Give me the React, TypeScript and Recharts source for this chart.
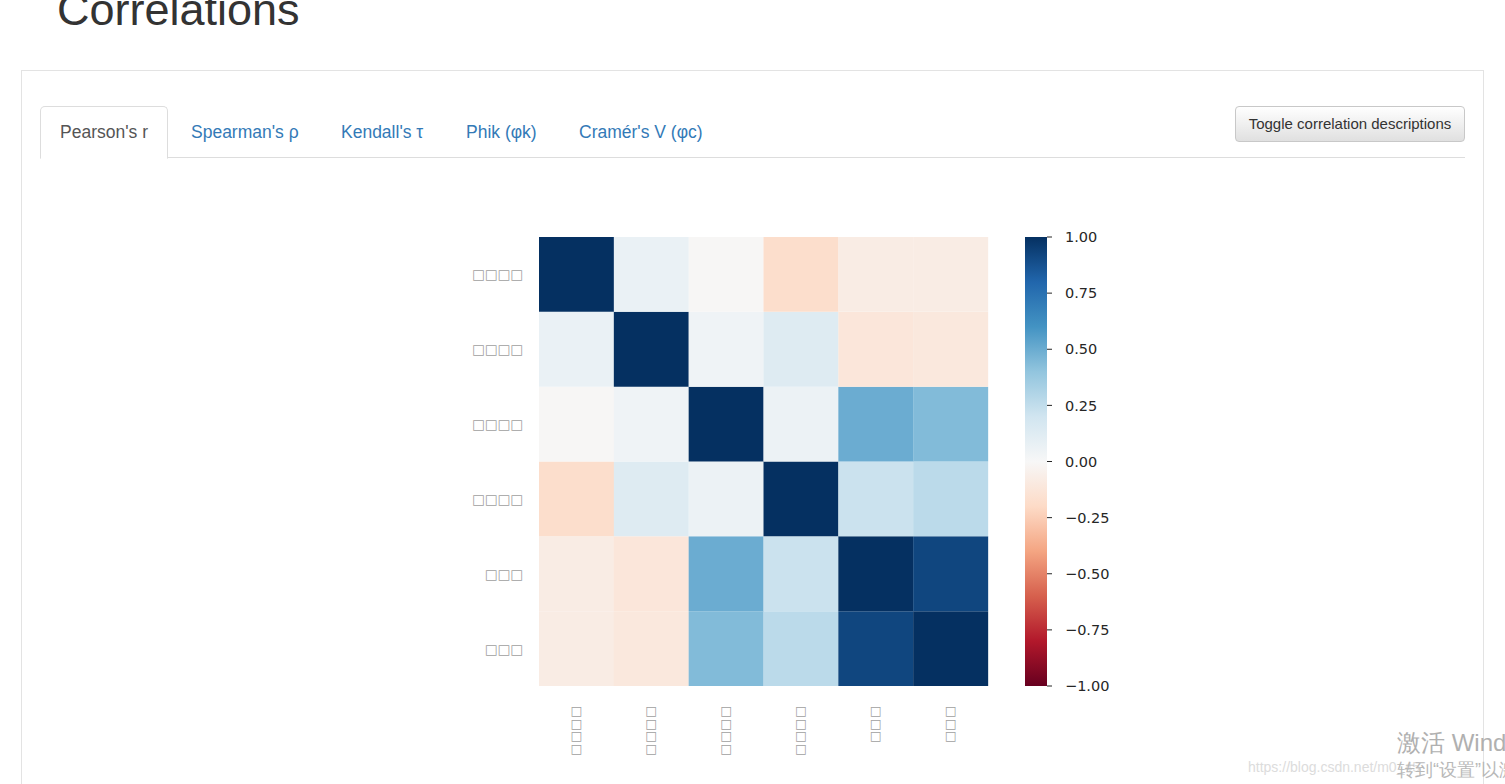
import React from "react";
import { BarChart, Bar, Cell, XAxis, YAxis } from "recharts";

// labels came out as missing-glyph boxes in the original render
const labels = ["□□□□", "□□□□", "□□□□", "□□□□", "□□□", "□□□"];

const corrRows = [
  [1.0, 0.07, -0.01, -0.18, -0.08, -0.08],
  [0.07, 1.0, 0.04, 0.13, -0.12, -0.11],
  [-0.01, 0.04, 1.0, 0.06, 0.5, 0.44],
  [-0.18, 0.13, 0.06, 1.0, 0.22, 0.27],
  [-0.08, -0.12, 0.5, 0.22, 1.0, 0.92],
  [-0.08, -0.11, 0.44, 0.27, 0.92, 1.0],
];

const colorbarTicks = [-1, -0.75, -0.5, -0.25, 0, 0.25, 0.5, 0.75, 1];

const tabs = ["Pearson's r", "Spearman's ρ", "Kendall's τ", "Phik (φk)", "Cramér's V (φc)"];
const tabX = [60, 191, 341, 466, 579];

// matplotlib RdBu_r, from -1 to 1
const rdbu = [
  "#67001f", "#b2182b", "#d6604d", "#f4a582", "#fddbc7", "#f7f7f7",
  "#d1e5f0", "#92c5de", "#4393c3", "#2166ac", "#053061",
];

const hex = (c: string) => [1, 3, 5].map((i) => parseInt(c.slice(i, i + 2), 16));

const corrColor = (v: number) => {
  const t = ((Math.max(-1, Math.min(1, v)) + 1) / 2) * (rdbu.length - 1);
  const i = Math.min(Math.floor(t), rdbu.length - 2);
  const f = t - i;
  const a = hex(rdbu[i]);
  const b = hex(rdbu[i + 1]);
  const rgb = a.map((x, k) => Math.round(x + (b[k] - x) * f));
  return `rgb(${rgb.join(",")})`;
};

// one stacked column per variable, one unit-high segment per row
const heatData = labels.map((name, j) => {
  const d: any = { name, col: j };
  corrRows.forEach((_, r) => (d[`r${r}`] = 1));
  return d;
});

const colorbarData = [{ name: "cb", range: [-1, 1] }];

const tickFont = "'DejaVu Sans', sans-serif";

const YTick = ({ x, y, payload }: any) => {
  const row = 5 - Math.floor(payload.value);
  return (
    <text x={x} y={y} dy={5} textAnchor="end" fill="#a0a0a0" fontSize={13.5} fontFamily={tickFont}>
      {labels[row]}
    </text>
  );
};

// vertical label: one character per line
const XTick = ({ x, y, payload }: any) => {
  const chars = Array.from(String(payload.value));
  return (
    <g>
      {chars.map((ch, i) => (
        <text
          key={i}
          x={x}
          y={y + 21 + i * 12.5}
          textAnchor="middle"
          fill="#a0a0a0"
          fontSize={12.5}
          fontFamily={tickFont}
        >
          {ch}
        </text>
      ))}
    </g>
  );
};

const fmtTick = (v: number) => v.toFixed(2).replace("-", "\u2212");

const App: React.FC = () => {
  const rowOrder = [5, 4, 3, 2, 1, 0];

  return (
    <div
      style={{
        position: "absolute",
        left: 0,
        top: 0,
        width: 1505,
        height: 784,
        overflow: "hidden",
        background: "#fff",
        fontFamily: "'Liberation Sans', Arial, sans-serif",
      }}
    >
      <div style={{ position: "absolute", left: 57, top: -13, fontSize: 45, lineHeight: "45px", color: "#333" }}>
        Correlations
      </div>

      {/* panel */}
      <div
        style={{
          position: "absolute",
          left: 21,
          top: 70,
          width: 1461,
          height: 760,
          border: "1px solid #e3e3e3",
        }}
      />
      <div style={{ position: "absolute", left: 40, top: 157, width: 1425, height: 1, background: "#dddddd" }} />
      <div
        style={{
          position: "absolute",
          left: 40,
          top: 106,
          width: 126,
          height: 51,
          border: "1px solid #dddddd",
          borderBottom: "1px solid #fff",
          borderRadius: "5px 5px 0 0",
          background: "#fff",
        }}
      />
      {tabs.map((t, i) => (
        <div
          key={t}
          style={{
            position: "absolute",
            left: tabX[i],
            top: 121,
            fontSize: 17.5,
            lineHeight: "22px",
            color: i === 0 ? "#555" : "#337ab7",
            whiteSpace: "nowrap",
          }}
        >
          {t}
        </div>
      ))}
      <div
        style={{
          position: "absolute",
          left: 1235,
          top: 106,
          width: 228,
          height: 34,
          border: "1px solid #c8c8c8",
          borderRadius: 4,
          background: "linear-gradient(#ffffff, #e0e0e0)",
          fontSize: 15,
          lineHeight: "34px",
          textAlign: "center",
          color: "#333",
          whiteSpace: "nowrap",
        }}
      >
        Toggle correlation descriptions
      </div>

      {/* heatmap */}
      <div style={{ position: "absolute", left: 400, top: 200 }}>
        <BarChart
          width={620}
          height={580}
          data={heatData}
          barCategoryGap={0}
          margin={{ top: 37, right: 32, bottom: 0, left: 0 }}
        >
          <XAxis
            dataKey="name"
            axisLine={false}
            tickLine={false}
            height={94}
            interval={0}
            tick={<XTick />}
          />
          <YAxis
            type="number"
            domain={[0, 6]}
            ticks={[0.5, 1.5, 2.5, 3.5, 4.5, 5.5]}
            width={139}
            axisLine={false}
            tickLine={false}
            tick={<YTick />}
            tickMargin={10}
          />
          {rowOrder.map((r) => (
            <Bar key={r} dataKey={`r${r}`} stackId="m" isAnimationActive={false}>
              {heatData.map((_, j) => (
                <Cell key={j} fill={corrColor(corrRows[r][j])} />
              ))}
            </Bar>
          ))}
        </BarChart>
      </div>

      {/* colorbar */}
      <div style={{ position: "absolute", left: 1015, top: 200 }}>
        <BarChart
          width={150}
          height={580}
          data={colorbarData}
          barCategoryGap={0}
          margin={{ top: 37, right: 0, bottom: 94, left: 10 }}
        >
          <defs>
            <linearGradient id="rdbu" x1="0" y1="0" x2="0" y2="1">
              {rdbu
                .slice()
                .reverse()
                .map((c, i) => (
                  <stop key={i} offset={`${(i / (rdbu.length - 1)) * 100}%`} stopColor={c} />
                ))}
            </linearGradient>
          </defs>
          <XAxis dataKey="name" hide />
          <YAxis
            orientation="right"
            type="number"
            domain={[-1, 1]}
            ticks={colorbarTicks}
            width={118}
            axisLine={false}
            tickSize={5}
            tickMargin={13}
            tickLine={{ stroke: "#262626" }}
            tickFormatter={fmtTick}
            tick={{ fill: "#262626", fontSize: 14.5, fontFamily: tickFont }}
          />
          <Bar dataKey="range" fill="url(#rdbu)" isAnimationActive={false} />
        </BarChart>
      </div>

      {/* screenshot watermark */}
      <div style={{ position: "absolute", left: 1397, top: 727, fontSize: 24, color: "#b0b0b0", whiteSpace: "nowrap" }}>
        激活 Windows
      </div>
      <div style={{ position: "absolute", left: 1248, top: 759, fontSize: 14, color: "#dcdcdc", whiteSpace: "nowrap" }}>
        https://blog.csdn.net/m0_45
      </div>
      <div style={{ position: "absolute", left: 1397, top: 758, fontSize: 18, color: "#b8b8b8", whiteSpace: "nowrap" }}>
        转到“设置”以激活 Windows。
      </div>
    </div>
  );
};

export default App;
